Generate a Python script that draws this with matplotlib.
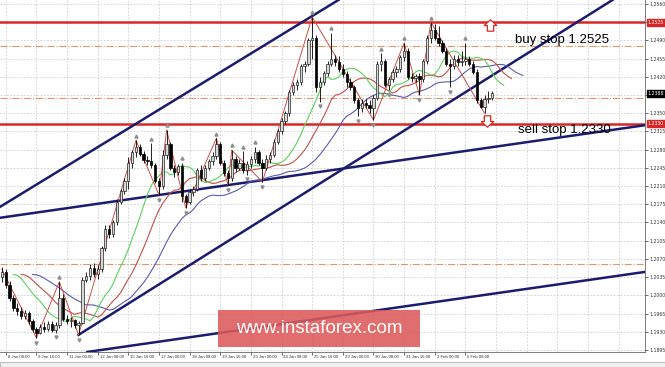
import numpy as np
import matplotlib
matplotlib.use('Agg')
import matplotlib.pyplot as plt
from matplotlib.patches import Rectangle
from matplotlib.path import Path
from matplotlib.transforms import blended_transform_factory

# EURUSD H4, 8 Jan 04:00 .. 6 Feb 12:00 (bar index 0..128)
opens = [1.2035]
highs = [1.2055, 1.2050, 1.2028, 1.2000, 1.1985, 1.1978, 1.1972, 1.1970, 1.1955, 1.1940,
         1.1945, 1.1948, 1.1950, 1.1950, 1.1948, 1.2026, 1.2002, 1.1962, 1.1958, 1.1955,
         1.1950, 1.2035, 1.2045, 1.2060, 1.2062, 1.2058, 1.2095, 1.2135, 1.2135, 1.2145,
         1.2185, 1.2205, 1.2225, 1.2265, 1.2280, 1.2298, 1.2290, 1.2278, 1.2268, 1.2292,
         1.2255, 1.2225, 1.2280, 1.2318, 1.2295, 1.2250, 1.2252, 1.2255, 1.2195, 1.2205,
         1.2210, 1.2245, 1.2250, 1.2250, 1.2262, 1.2275, 1.2302, 1.2295, 1.2260, 1.2240,
         1.2279, 1.2268, 1.2262, 1.2277, 1.2258, 1.2268, 1.2285, 1.2280, 1.2262, 1.2270,
         1.2275, 1.2300, 1.2320, 1.2340, 1.2355, 1.2395, 1.2410, 1.2415, 1.2445, 1.2450,
         1.2495, 1.2535, 1.2500, 1.2420, 1.2432, 1.2450, 1.2504, 1.2462, 1.2460, 1.2445,
         1.2432, 1.2418, 1.2405, 1.2380, 1.2378, 1.2378, 1.2375, 1.2385, 1.2450, 1.2465,
         1.2455, 1.2420, 1.2435, 1.2440, 1.2462, 1.2485, 1.2475, 1.2428, 1.2425, 1.2428,
         1.2455, 1.2500, 1.2525, 1.2522, 1.2518, 1.2490, 1.2475, 1.2455, 1.2462, 1.2462,
         1.2470, 1.2485, 1.2460, 1.2450, 1.2435, 1.2380, 1.2385, 1.2392, 1.2392]
lows = [1.2025, 1.2015, 1.1990, 1.1970, 1.1962, 1.1955, 1.1955, 1.1945, 1.1930, 1.1918,
        1.1925, 1.1930, 1.1932, 1.1930, 1.1928, 1.1938, 1.1950, 1.1945, 1.1940, 1.1938,
        1.1924, 1.1945, 1.2025, 1.2030, 1.2035, 1.2032, 1.2045, 1.2085, 1.2110, 1.2112,
        1.2135, 1.2175, 1.2195, 1.2205, 1.2245, 1.2265, 1.2268, 1.2255, 1.2250, 1.2245,
        1.2215, 1.2193, 1.2205, 1.2262, 1.2240, 1.2228, 1.2232, 1.2180, 1.2168, 1.2175,
        1.2190, 1.2200, 1.2220, 1.2220, 1.2240, 1.2250, 1.2262, 1.2250, 1.2230, 1.2212,
        1.2220, 1.2238, 1.2240, 1.2235, 1.2232, 1.2245, 1.2255, 1.2250, 1.2218, 1.2240,
        1.2255, 1.2265, 1.2290, 1.2310, 1.2330, 1.2345, 1.2385, 1.2395, 1.2405, 1.2430,
        1.2440, 1.2455, 1.2390, 1.2372, 1.2405, 1.2422, 1.2440, 1.2440, 1.2430, 1.2420,
        1.2400, 1.2395, 1.2370, 1.2345, 1.2352, 1.2360, 1.2350, 1.2337, 1.2375, 1.2432,
        1.2400, 1.2395, 1.2410, 1.2420, 1.2430, 1.2450, 1.2415, 1.2410, 1.2410, 1.2385,
        1.2410, 1.2445, 1.2485, 1.2490, 1.2480, 1.2465, 1.2440, 1.2400, 1.2435, 1.2440,
        1.2440, 1.2442, 1.2440, 1.2425, 1.2370, 1.2360, 1.2350, 1.2370, 1.2375]
closes = [1.2045, 1.2020, 1.1995, 1.1975, 1.1970, 1.1960, 1.1966, 1.1950, 1.1935, 1.1928,
          1.1940, 1.1935, 1.1945, 1.1933, 1.1942, 1.1995, 1.1955, 1.1950, 1.1953, 1.1943,
          1.1947, 1.2030, 1.2038, 1.2052, 1.2040, 1.2050, 1.2090, 1.2128, 1.2118, 1.2140,
          1.2180, 1.2200, 1.2220, 1.2255, 1.2275, 1.2285, 1.2272, 1.2260, 1.2258, 1.2250,
          1.2220, 1.2210, 1.2270, 1.2290, 1.2245, 1.2238, 1.2248, 1.2190, 1.2180, 1.2198,
          1.2205, 1.2240, 1.2225, 1.2245, 1.2258, 1.2268, 1.2290, 1.2255, 1.2235, 1.2225,
          1.2262, 1.2245, 1.2255, 1.2240, 1.2252, 1.2262, 1.2275, 1.2255, 1.2245, 1.2262,
          1.2270, 1.2295, 1.2315, 1.2335, 1.2350, 1.2390, 1.2405, 1.2410, 1.2440, 1.2445,
          1.2490, 1.2495, 1.2400, 1.2410, 1.2428, 1.2445, 1.2455, 1.2448, 1.2435, 1.2425,
          1.2410, 1.2400, 1.2375, 1.2360, 1.2370, 1.2366, 1.2360, 1.2380, 1.2445, 1.2450,
          1.2405, 1.2415, 1.2430, 1.2435, 1.2458, 1.2470, 1.2420, 1.2418, 1.2422, 1.2415,
          1.2450, 1.2495, 1.2510, 1.2495, 1.2485, 1.2470, 1.2445, 1.2440, 1.2455, 1.2448,
          1.2450, 1.2455, 1.2445, 1.2430, 1.2375, 1.2362, 1.2378, 1.2380, 1.2388]
opens = opens + closes[:-1]

# zigzag pivots
zz_bars = [0, 9, 15, 20, 35, 41, 43, 48, 56, 59, 60, 68, 81, 97, 105, 109, 112, 126]
zz_prices = [1.2050, 1.1918, 1.2026, 1.1924, 1.2298, 1.2193, 1.2318, 1.2168, 1.2302,
             1.2212, 1.2279, 1.2218, 1.2535, 1.2337, 1.2485, 1.2385, 1.2525, 1.2350]

date_labels = ['8 Jan 08:00', '9 Jan 16:00', '11 Jan 00:00', '12 Jan 08:00', '15 Jan 16:00',
               '17 Jan 00:00', '18 Jan 08:00', '19 Jan 16:00', '23 Jan 00:00', '24 Jan 08:00',
               '25 Jan 16:00', '29 Jan 00:00', '30 Jan 08:00', '31 Jan 16:00', '2 Feb 00:00',
               '5 Feb 08:00']

buy_stop = 1.2525
sell_stop = 1.2330
levels = [1.2479, 1.2380, 1.2060]
last_price = 1.2388


def smma(x, n):
    out = np.empty(len(x))
    out[0] = x[0]
    for i in range(1, len(x)):
        out[i] = (out[i - 1] * (n - 1) + x[i]) / n
    return out


o = np.array(opens)
h = np.array(highs)
l = np.array(lows)
c = np.array(closes)
bars = np.arange(len(c))
median = (h + l) / 2

fig = plt.figure(figsize=(6.65, 3.67), dpi=100)
ax = fig.add_axes([0, 0.041, 0.970, 0.959])
ax.set_xlim(-0.5, 167.9)
ax.set_ylim(1.18911, 1.25677)

# grid
yticks = np.round(np.arange(1.1895, 1.25601, 0.0035), 4)
for yv in yticks:
    ax.axhline(yv, color='#cccccc', lw=0.6, ls=(0, (2, 2)), zorder=0)
tick_bars = [1 + 8 * k for k in range(21)]
for xb in tick_bars:
    ax.axvline(xb, color='#cccccc', lw=0.6, ls=(0, (2, 2)), zorder=0)

# levels
for lv in levels:
    ax.axhline(lv, color='#e0956a', lw=0.8, ls='-.', zorder=1)
ax.axhline(buy_stop, color='#d62828', lw=1.8, zorder=2)
ax.axhline(sell_stop, color='#d62828', lw=1.8, zorder=2)

# trend channel lines
navy = '#1c1c6e'
ax.axline((-0.5, 1.2170), (81.7, 1.2540), color=navy, lw=1.8, zorder=3)
ax.axline((-0.5, 1.2149), (167.9, 1.2327), color=navy, lw=1.8, zorder=3)
ax.axline((-0.5, 1.1867), (167.9, 1.2045), color=navy, lw=1.8, zorder=3)
slope = (1.2335 - 1.1924) / (109 - 20)
ax.plot([20, 170], [1.1924, 1.1924 + slope * 150], color=navy, lw=1.8, zorder=3)

# alligator
jaw = smma(median, 13)
teeth = smma(median, 8)
lips = smma(median, 5)
ax.plot(bars + 8, jaw, color='#5b5bb0', lw=0.8, zorder=4)
ax.plot(bars + 5, teeth, color='#c0504a', lw=0.8, zorder=4)
ax.plot(bars + 3, lips, color='#5ccf5c', lw=0.8, zorder=4)

# zigzag
ax.plot(zz_bars, zz_prices, color='#c85048', lw=0.7, zorder=4)

# candles
ax.vlines(bars, l, h, color='black', lw=0.6, zorder=5)
up = c >= o
ax.bar(bars[up], (c - o)[up], bottom=o[up], width=0.6, color='#d8d8d8',
       edgecolor='#222222', linewidth=0.5, zorder=6)
ax.bar(bars[~up], (o - c)[~up], bottom=c[~up], width=0.6, color='black',
       edgecolor='black', linewidth=0.5, zorder=6)

# fractals
for i in range(2, len(c) - 2):
    if h[i] > max(h[i - 2], h[i - 1], h[i + 1], h[i + 2]):
        ax.plot(i, h[i] + 0.0009, marker='^', ms=2.2, color='#909090', zorder=7)
    if l[i] < min(l[i - 2], l[i - 1], l[i + 1], l[i + 2]):
        ax.plot(i, l[i] - 0.0009, marker='v', ms=2.2, color='#909090', zorder=7)

# annotations
ax.text(134, 1.2491, 'buy stop 1.2525', fontsize=9.5, va='center', ha='left',
        family='Liberation Sans', zorder=8)
ax.text(134.7, 1.2318, 'sell stop 1.2330', fontsize=9.5, va='center', ha='left',
        family='Liberation Sans', zorder=8)
up_arrow = Path([(-0.28, -0.5), (0.28, -0.5), (0.28, 0.0), (0.55, 0.0), (0.0, 0.5),
                 (-0.55, 0.0), (-0.28, 0.0), (-0.28, -0.5)])
down_arrow = Path([(x, -y) for x, y in up_arrow.vertices])
ax.plot(127.4, 1.2520, marker=up_arrow, ms=9, mfc='white', mec='#d62828', mew=0.9, zorder=8)
ax.plot(126.6, 1.2336, marker=down_arrow, ms=9, mfc='white', mec='#d62828', mew=0.9, zorder=8)

# axes styling
ax.yaxis.tick_right()
ax.set_yticks(yticks)
ax.set_yticklabels(['' if v in (1.2525, 1.2385) else f'{v:.4f}' for v in yticks])
ax.tick_params(axis='y', labelsize=3.3, length=2, width=0.5, pad=1.2, colors='#333333')
ax.set_xticks(tick_bars[:len(date_labels)])
ax.set_xticklabels([])
ax.tick_params(axis='x', length=2, width=0.5, colors='#333333')
trans = blended_transform_factory(ax.transData, ax.transAxes)
for xb, lab in zip(tick_bars, date_labels):
    ax.text(xb + 0.5, -0.008, lab, transform=trans, fontsize=3.1, ha='left', va='top',
            color='#333333', family='Liberation Sans')
for s in ['top', 'left']:
    ax.spines[s].set_visible(False)
ax.spines['right'].set_color('#666666')
ax.spines['bottom'].set_color('#666666')
ax.spines['right'].set_linewidth(0.6)
ax.spines['bottom'].set_linewidth(0.6)

# price boxes on right axis
ytrans = blended_transform_factory(ax.transAxes, ax.transData)
for val, txt, col in [(buy_stop, '1.2525', '#d62828'), (sell_stop, '1.2330', '#d62828'),
                      (last_price, f'{last_price:.4f}', 'black')]:
    ax.text(1.004, val, txt, transform=ytrans, fontsize=3.3, color='white', ha='left',
            va='center', clip_on=False, zorder=9,
            bbox=dict(boxstyle='square,pad=0.2', fc=col, ec=col))

# watermark
fig.add_artist(Rectangle((0.328, 0.054), 0.304, 0.101, transform=fig.transFigure,
                         facecolor='#dc5a5a', edgecolor='none', alpha=0.88, zorder=20))
fig.text(0.480, 0.104, 'www.instaforex.com', color='white', fontsize=13.5, ha='center',
         va='center', zorder=21, family='Liberation Sans')

# bottom status strip
fig.add_artist(Rectangle((0, 0), 1, 0.013, transform=fig.transFigure,
                         facecolor='#f0f0f0', edgecolor='#b0b0b0', lw=0.6, zorder=1))

fig.savefig('out.png', dpi=100)
